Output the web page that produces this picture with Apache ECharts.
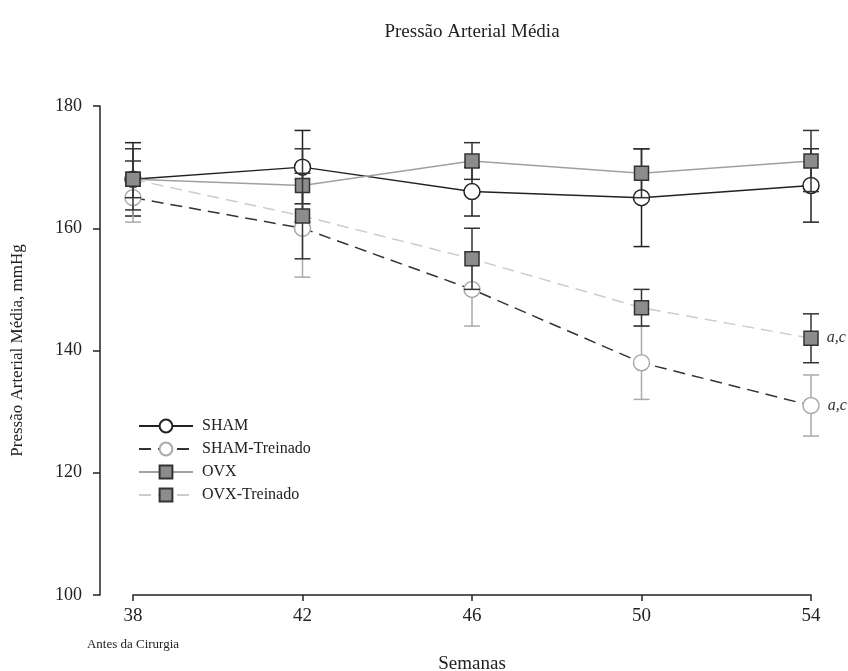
<!DOCTYPE html>
<html>
<head>
<meta charset="utf-8">
<script src="https://cdn.jsdelivr.net/npm/echarts@6/dist/echarts.min.js"></script>
<style>
  html, body { margin: 0; padding: 0; background: #fff; }
  #chart { width: 848px; height: 671px; }
</style>
</head>
<body>
<div id="chart"></div>
<script>
// Weeks of follow-up (38 = before surgery)
const weeks = [38, 42, 46, 50, 54];

// Mean arterial pressure (mmHg) and error per group
const sham      = [168, 170, 166, 165, 167];
const shamErr   = [6, 6, 4, 8, 6];
const shamTr    = [165, 160, 150, 138, 131];
const shamTrErr = [4, 8, 6, 6, 5];
const ovx       = [168, 167, 171, 169, 171];
const ovxErr    = [5, 6, 3, 4, 5];
const ovxTr     = [168, 162, 155, 147, 142];
const ovxTrErr  = [3, 7, 5, 3, 4];

// Significance marks per week
const shamTrSig = ['', '', '', '', 'a,c'];
const ovxTrSig  = ['', '', '', '', 'a,c'];

const FONT = "'Liberation Serif', 'Times New Roman', serif";
const INK = '#222';

function errData(mean, err) {
  return weeks.map((w, i) => [w, mean[i] - err[i], mean[i] + err[i]]);
}
function lineData(mean, sig) {
  return weeks.map((w, i) => {
    const item = { value: [w, mean[i]] };
    if (sig && sig[i]) {
      item.label = {
        show: true, position: 'right', distance: 8, formatter: sig[i],
        fontFamily: FONT, fontStyle: 'italic', fontSize: 16, color: '#333'
      };
    }
    return item;
  });
}
function errSeries(mean, err, color, z) {
  return {
    type: 'custom',
    z: z,
    silent: true,
    data: errData(mean, err),
    encode: { x: 0, y: [1, 2] },
    renderItem: function (params, api) {
      const x = api.value(0);
      const lo = api.coord([x, api.value(1)]);
      const hi = api.coord([x, api.value(2)]);
      const hw = 8;
      const style = { stroke: color, lineWidth: 1.5 };
      return {
        type: 'group',
        children: [
          { type: 'line', shape: { x1: lo[0], y1: lo[1], x2: hi[0], y2: hi[1] }, style: style },
          { type: 'line', shape: { x1: hi[0] - hw, y1: hi[1], x2: hi[0] + hw, y2: hi[1] }, style: style },
          { type: 'line', shape: { x1: lo[0] - hw, y1: lo[1], x2: lo[0] + hw, y2: lo[1] }, style: style }
        ]
      };
    }
  };
}

const chart = echarts.init(document.getElementById('chart'), null, { renderer: 'canvas' });

chart.setOption({
  backgroundColor: '#fff',
  animation: false,
  textStyle: { fontFamily: FONT, color: INK },
  title: {
    text: 'Pressão Arterial Média',
    left: 467, top: 18, textAlign: 'center',
    textStyle: { fontFamily: FONT, fontWeight: 'normal', fontSize: 19, color: INK }
  },
  grid: { left: 133, right: 37, top: 106, bottom: 76, containLabel: false, outerBoundsMode: 'none' },
  legend: {
    orient: 'vertical',
    left: 133, top: 413,
    itemWidth: 54, itemHeight: 16, itemGap: 7,
    textStyle: { fontFamily: FONT, fontSize: 16, color: INK, padding: [0, 0, 0, 4] },
    data: ['SHAM', 'SHAM-Treinado', 'OVX', 'OVX-Treinado']
  },
  xAxis: {
    type: 'value',
    min: 38, max: 54, interval: 4,
    name: 'Semanas',
    nameLocation: 'middle', nameGap: 60, nameMoveOverlap: false,
    nameTextStyle: { fontFamily: FONT, fontSize: 19, color: INK },
    splitLine: { show: false },
    axisLine: { lineStyle: { color: INK, width: 1.5 } },
    axisTick: { length: 6, lineStyle: { color: INK, width: 1.5 } },
    axisLabel: {
      margin: 10,
      formatter: function (v) {
        return v === 38 ? '{a|38}\n{b|Antes da Cirurgia}' : '{a|' + v + '}';
      },
      rich: {
        a: { fontFamily: FONT, fontSize: 19, color: INK, lineHeight: 22 },
        b: { fontFamily: FONT, fontSize: 13, color: INK, lineHeight: 24, verticalAlign: 'bottom' }
      }
    }
  },
  yAxis: {
    type: 'value',
    min: 100, max: 180, interval: 20,
    offset: 33,
    name: 'Pressão Arterial Média, mmHg',
    nameLocation: 'middle', nameGap: 74, nameMoveOverlap: false,
    nameTextStyle: { fontFamily: FONT, fontSize: 17, color: INK },
    splitLine: { show: false },
    axisLine: { show: true, lineStyle: { color: INK, width: 1.5 } },
    axisTick: { show: true, length: 7, lineStyle: { color: INK, width: 1.5 } },
    axisLabel: { margin: 18, fontFamily: FONT, fontSize: 18, color: INK }
  },
  series: [
    errSeries(sham, shamErr, '#222', 1),
    {
      name: 'SHAM', type: 'line', z: 2,
      data: lineData(sham),
      symbol: 'circle', symbolSize: 16,
      lineStyle: { color: '#222', width: 1.5 },
      itemStyle: { color: '#fff', borderColor: '#222', borderWidth: 1.5 }
    },
    errSeries(shamTr, shamTrErr, '#aaaaaa', 3),
    {
      name: 'SHAM-Treinado', type: 'line', z: 4,
      data: lineData(shamTr, shamTrSig),
      symbol: 'circle', symbolSize: 16,
      lineStyle: { color: '#333', width: 1.5, type: [12, 7] },
      itemStyle: { color: '#fff', borderColor: '#aaaaaa', borderWidth: 1.5 }
    },
    errSeries(ovx, ovxErr, '#333', 5),
    {
      name: 'OVX', type: 'line', z: 6,
      data: lineData(ovx),
      symbol: 'rect', symbolSize: 14,
      lineStyle: { color: '#a0a0a0', width: 1.5 },
      itemStyle: { color: '#8c8c8c', borderColor: '#333', borderWidth: 1.5 }
    },
    errSeries(ovxTr, ovxTrErr, '#333', 7),
    {
      name: 'OVX-Treinado', type: 'line', z: 8,
      data: lineData(ovxTr, ovxTrSig),
      symbol: 'rect', symbolSize: 14,
      lineStyle: { color: '#cccccc', width: 1.5, type: [12, 7] },
      itemStyle: { color: '#8c8c8c', borderColor: '#333', borderWidth: 1.5 }
    }
  ]
});
</script>
</body>
</html>
